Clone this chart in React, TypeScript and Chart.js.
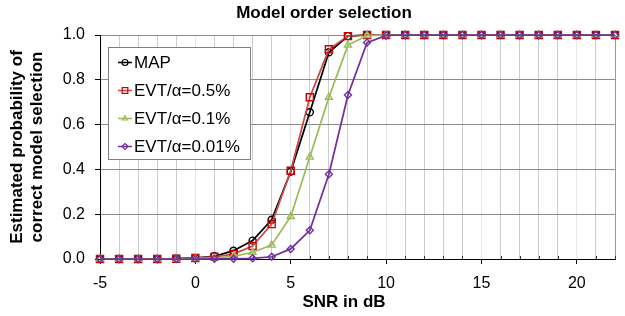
import React, { useEffect, useRef } from 'react';
import { Chart, registerables } from 'chart.js';

Chart.register(...registerables);

// ---- data ----
const snrDb = [-5, -4, -3, -2, -1, 0, 1, 2, 3, 4, 5, 6, 7, 8, 9, 10, 11, 12, 13, 14, 15, 16, 17, 18, 19, 20, 21, 22];
const mapProb = [0, 0, 0, 0, 0.002, 0.005, 0.012, 0.037, 0.082, 0.175, 0.39, 0.655, 0.923, 0.995, 1, 1, 1, 1, 1, 1, 1, 1, 1, 1, 1, 1, 1, 1];
const evt05Prob = [0, 0, 0, 0, 0.001, 0.004, 0.01, 0.022, 0.058, 0.156, 0.394, 0.722, 0.936, 0.995, 1, 1, 1, 1, 1, 1, 1, 1, 1, 1, 1, 1, 1, 1];
const evt01Prob = [0, 0, 0, 0, 0, 0.002, 0.004, 0.012, 0.03, 0.062, 0.19, 0.455, 0.722, 0.955, 0.997, 1, 1, 1, 1, 1, 1, 1, 1, 1, 1, 1, 1, 1];
const evt001Prob = [0, 0, 0, 0, 0, 0, 0.001, 0.001, 0.003, 0.01, 0.045, 0.128, 0.378, 0.732, 0.966, 0.998, 1, 1, 1, 1, 1, 1, 1, 1, 1, 1, 1, 1];
const seriesLabels = ['MAP', 'EVT/\u03b1=0.5%', 'EVT/\u03b1=0.1%', 'EVT/\u03b1=0.01%'];
const chartTitle = 'Model order selection';
const xTitle = 'SNR in dB';
const yTitleLines = ['Estimated probability of', 'correct model selection'];

const FONT = "'Liberation Sans', Arial, Helvetica, sans-serif";

function drawMarker(ctx: CanvasRenderingContext2D, style: string, x: number, y: number, r: number) {
  ctx.beginPath();
  if (style === 'circle') {
    ctx.arc(x, y, r, 0, Math.PI * 2);
  } else if (style === 'rect') {
    const s = r * Math.SQRT1_2;
    ctx.rect(x - s, y - s, 2 * s, 2 * s);
  } else if (style === 'triangle') {
    ctx.moveTo(x, y - r);
    ctx.lineTo(x + r * 0.866, y + r * 0.5);
    ctx.lineTo(x - r * 0.866, y + r * 0.5);
    ctx.closePath();
  } else {
    ctx.moveTo(x, y - r);
    ctx.lineTo(x + r, y);
    ctx.lineTo(x, y + r);
    ctx.lineTo(x - r, y);
    ctx.closePath();
  }
  ctx.stroke();
}

const decorPlugin = {
  id: 'decor',
  beforeDatasetsDraw(chart: any) {
    const ctx = chart.ctx as CanvasRenderingContext2D;
    const xs = chart.scales.x;
    const bottom = chart.chartArea.bottom;
    ctx.save();
    ctx.strokeStyle = '#333';
    ctx.lineWidth = 1;
    for (const v of snrDb) {
      if (v % 5 === 0) continue;
      const px = Math.round(xs.getPixelForValue(v)) + 0.5;
      ctx.beginPath();
      ctx.moveTo(px, bottom);
      ctx.lineTo(px, bottom - 3);
      ctx.stroke();
    }
    ctx.restore();
  },
  afterDraw(chart: any) {
    const ctx = chart.ctx as CanvasRenderingContext2D;
    const area = chart.chartArea;
    ctx.save();
    // chart title
    ctx.fillStyle = '#000';
    ctx.font = `bold 17px ${FONT}`;
    ctx.textAlign = 'center';
    ctx.textBaseline = 'middle';
    ctx.fillText(chartTitle, 324, 13);
    // x title
    ctx.fillText(xTitle, 344, 302);
    // y title
    ctx.save();
    ctx.translate(0, (area.top + area.bottom) / 2);
    ctx.rotate(-Math.PI / 2);
    ctx.fillText(yTitleLines[0], 0, 17);
    ctx.fillText(yTitleLines[1], 0, 37);
    ctx.restore();

    // legend
    const lx = 108.5, ly = 47.5, lw = 142, lh = 112;
    ctx.fillStyle = '#fff';
    ctx.fillRect(lx, ly, lw, lh);
    ctx.strokeStyle = '#808080';
    ctx.lineWidth = 1;
    ctx.strokeRect(lx, ly, lw, lh);
    const rowY = [62.5, 90.5, 118.5, 146.5];
    chart.data.datasets.forEach((ds: any, i: number) => {
      const y = rowY[i];
      ctx.strokeStyle = ds.borderColor;
      ctx.lineWidth = 1.5;
      ctx.beginPath();
      ctx.moveTo(118, y);
      ctx.lineTo(132, y);
      ctx.stroke();
      ctx.strokeStyle = ds.pointBorderColor;
      ctx.lineWidth = 1.2;
      drawMarker(ctx, ds.pointStyle, 125, y, ds.pointStyle === 'rect' ? 4 : 3);
      ctx.fillStyle = '#000';
      ctx.font = `17px ${FONT}`;
      ctx.textAlign = 'left';
      ctx.textBaseline = 'middle';
      ctx.fillText(ds.label, 134, y + 0.5);
    });
    ctx.restore();
  },
};

export default function App() {
  const canvasRef = useRef<HTMLCanvasElement | null>(null);

  useEffect(() => {
    const canvas = canvasRef.current;
    if (!canvas) return;
    const mk = (vals: number[]) => snrDb.map((x, i) => ({ x, y: vals[i] }));
    const base = {
      fill: false,
      borderWidth: 1.75,
      pointBorderWidth: 1.4,
      pointBackgroundColor: 'rgba(0,0,0,0)',
      tension: 0,
      clip: false as any,
    };
    const chart = new Chart(canvas, {
      type: 'line',
      data: {
        datasets: [
          { ...base, label: seriesLabels[0], data: mk(mapProb), borderColor: '#000000', pointBorderColor: '#000000', pointStyle: 'circle', pointRadius: 3.5, order: 3 },
          { ...base, label: seriesLabels[1], data: mk(evt05Prob), borderColor: '#c94a4a', pointBorderColor: '#cc0000', pointStyle: 'rect', pointRadius: 5, order: 2 },
          { ...base, label: seriesLabels[2], data: mk(evt01Prob), borderColor: '#9bbb59', pointBorderColor: '#9bbb59', pointStyle: 'triangle', pointRadius: 4, order: 1 },
          { ...base, label: seriesLabels[3], data: mk(evt001Prob), borderColor: '#7030a0', pointBorderColor: '#7030a0', pointStyle: 'rectRot', pointRadius: 3.5, order: 0 },
        ] as any,
      },
      options: {
        animation: false,
        responsive: false,
        devicePixelRatio: 1,
        layout: { padding: { top: 35, right: 3, left: 0, bottom: 0 } },
        plugins: {
          legend: { display: false },
          title: { display: false },
          tooltip: { enabled: false },
        },
        scales: {
          x: {
            type: 'linear',
            min: -5,
            max: 22,
            afterFit: (s: any) => { s.height = 57; },
            ticks: {
              stepSize: 1,
              autoSkip: false,
              maxRotation: 0,
              color: '#000',
              padding: 10,
              font: { family: FONT, size: 16 },
              callback: (v: any) => (Number(v) % 5 === 0 ? String(v) : ''),
            },
            grid: {
              color: (c: any) => {
                const v = c.tick ? c.tick.value : 0;
                if (v === 22) return '#999999';
                return v % 5 === 0 ? '#e6e6e6' : '#cccccc';
              },
              tickColor: (c: any) => (c.tick && c.tick.value % 5 === 0 ? '#000' : 'rgba(0,0,0,0)'),
              tickLength: 5,
            },
            border: { color: '#000', width: 1 },
          },
          y: {
            min: 0,
            max: 1,
            afterFit: (s: any) => { s.width = 100; },
            ticks: {
              stepSize: 0.2,
              color: '#000',
              padding: 10,
              font: { family: FONT, size: 16 },
              callback: (v: any) => Number(v).toFixed(1),
            },
            grid: { color: '#8c8c8c', tickColor: '#000', tickLength: 5 },
            border: { color: '#000', width: 1 },
          },
        },
      } as any,
      plugins: [decorPlugin],
    });
    return () => chart.destroy();
  }, []);

  return (
    <div style={{ position: 'absolute', left: 0, top: 0, width: 625, height: 316, background: '#fff' }}>
      <canvas ref={canvasRef} width={625} height={316} style={{ display: 'block' }} />
    </div>
  );
}
